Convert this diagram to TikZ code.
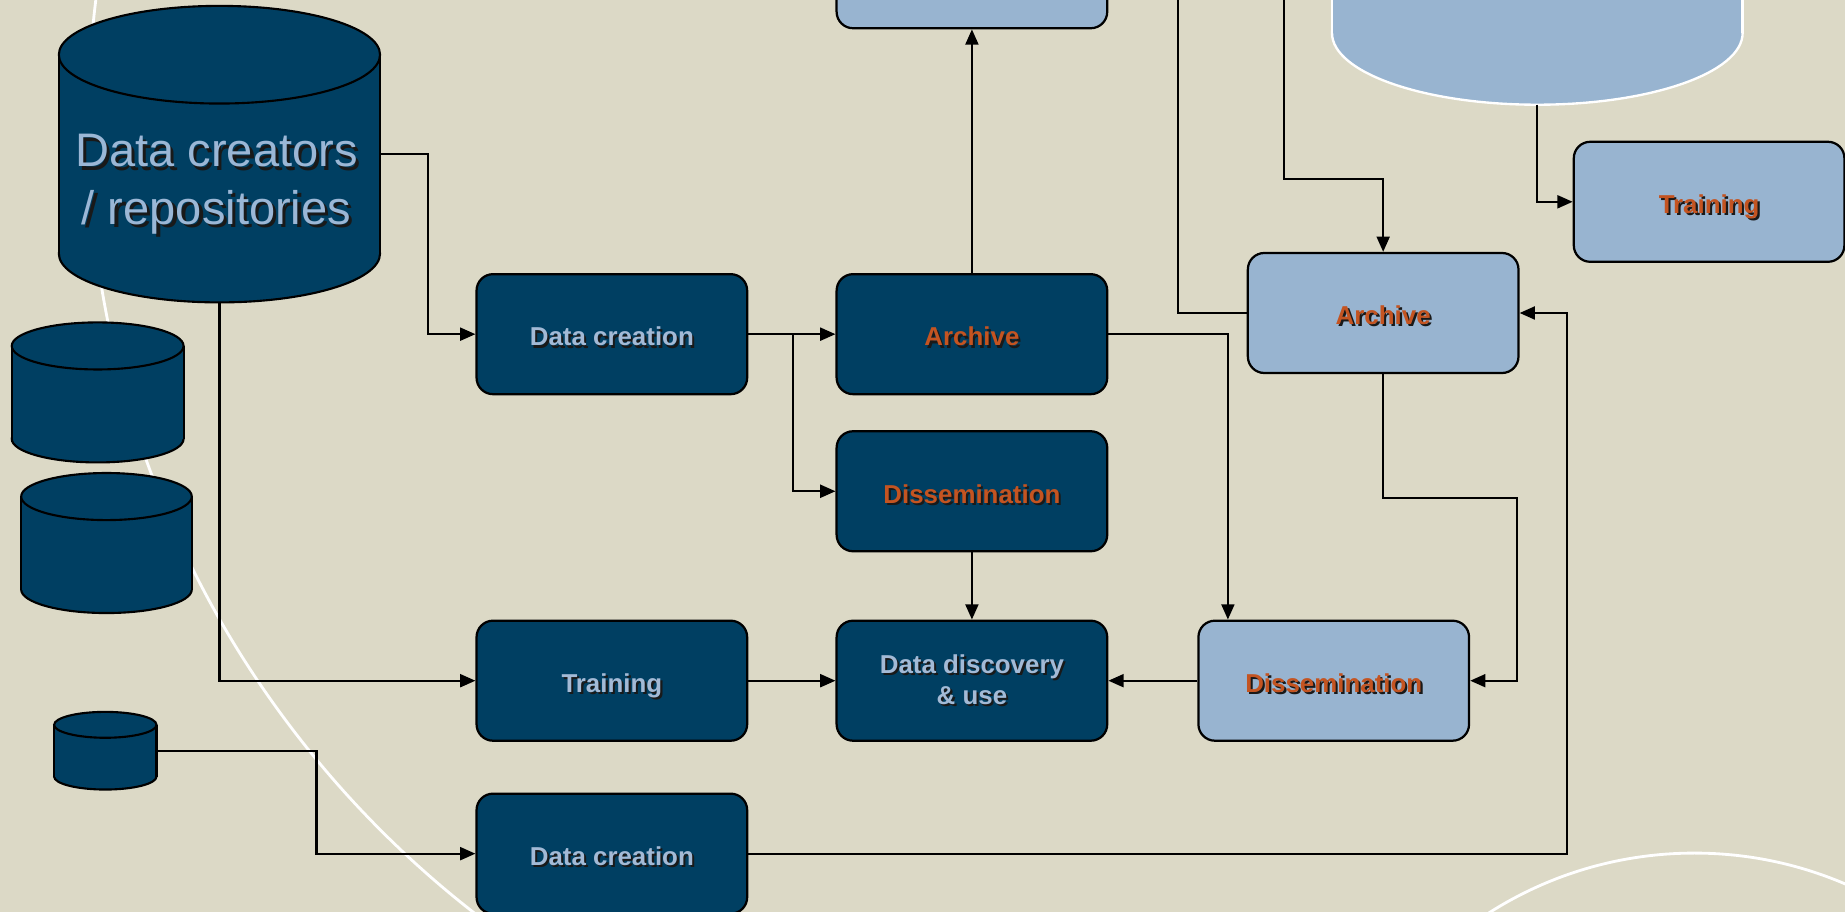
\documentclass[tikz,border=0pt]{standalone}
\usepackage{fontspec}
\setmainfont{Liberation Sans}
\usetikzlibrary{arrows.meta}
\definecolor{bg}{RGB}{220,217,198}
\definecolor{navy}{RGB}{0,63,98}
\definecolor{lightb}{RGB}{152,180,208}
\definecolor{txtb}{RGB}{163,186,214}
\definecolor{bigtxt}{RGB}{155,183,214}
\definecolor{orng}{RGB}{196,84,33}
\definecolor{shd}{RGB}{25,25,25}
\newcommand\sh[3][0.9pt]{\makebox[0pt][l]{\hspace{#1}\raisebox{-#1}{\color{shd}#3}}{\color{#2}#3}}
% cylinder: name, cx, cy, half width, half height, ry (units)
\newcommand\mycyl[6]{%
  \node[inner sep=0pt, outer sep=0pt, minimum width=#4pt, minimum height=#5pt] (#1) at (#2,#3) {};
  \filldraw[cylst] (#2,#3+#5-#6) ellipse[x radius=#4, y radius=#6];
  \fill[navy] (#2-#4,#3-#5+#6) rectangle (#2+#4,#3+#5-#6);
  \draw[cylline] (#2-#4,#3-#5+#6) -- (#2-#4,#3+#5-#6) (#2+#4,#3-#5+#6) -- (#2+#4,#3+#5-#6);
  \filldraw[cylst] (#2,#3-#5+#6) ellipse[x radius=#4, y radius=#6];
}
\tikzset{
  box/.style={draw=black, line width=0.95pt, rounded corners=7pt, minimum width=115pt,
    minimum height=51pt, inner sep=0pt, align=center, font=\bfseries\fontsize{11}{13.5}\selectfont},
  oneline/.style={text height=10pt, text depth=0pt},
  darkbox/.style={box, fill=navy},
  lightbox/.style={box, fill=lightb},
  conn/.style={draw=black, line width=0.95pt, -{Triangle[length=6.5pt,width=5.5pt]}},
  plainline/.style={draw=black, line width=0.95pt},
  cylst/.style={fill=navy, draw=black, line width=0.9pt},
  cylline/.style={draw=black, line width=0.9pt},
  arcline/.style={draw=white, line width=1.2pt}
}
\begin{document}
\begin{tikzpicture}[x=0.5pt, y=-0.5pt]
\fill[bg] (0,0) rectangle (1568,775);
\useasboundingbox (0,0) rectangle (1568,775);
\clip (0,0) rectangle (1568,775);
% background decoration arcs
\begin{scope}
  \clip (0,0) rectangle (700,775);
  \draw[arcline] (925,105) circle[radius=850];
\end{scope}
\draw[arcline] (1440,1050) circle[radius=325];

% cylinders
\mycyl{cyl1}{186.5}{131}{136.5}{126}{41.5}
\mycyl{cyl2}{83}{333.5}{73}{59.5}{20}
\mycyl{cyl3}{90.5}{461.5}{72.5}{59.5}{20}
\mycyl{cyl4}{89.5}{638}{43.5}{33}{11}
\node[inner sep=0pt, align=center, font=\fontsize{20}{24.5}\selectfont] (cyl1lbl) at (184,158)
  {\sh[1.4pt]{bigtxt}{Data creators}\\\sh[1.4pt]{bigtxt}{/ repositories}};

% light cylinder (top right, cut by the frame)
\node[inner sep=0pt, outer sep=0pt, minimum width=174.5pt, minimum height=144.5pt] (lcyl) at (1306.5,-55.5) {};
\filldraw[fill=lightb, draw=white, line width=1pt] (1306.5,28) ellipse[x radius=174.5, y radius=61];
\fill[lightb] (1132,-20) rectangle (1481,28);
\draw[white, line width=1pt] (1132,-20) -- (1132,28) (1481,-20) -- (1481,28);

% boxes
\node[lightbox] (topbox) at (826,-27) {};
\node[darkbox, oneline] (dc1) at (520,284) {\sh{txtb}{Data creation}};
\node[darkbox, oneline] (arch1) at (826,284) {\sh{orng}{Archive}};
\node[darkbox, oneline] (diss1) at (826,417.5) {\sh{orng}{Dissemination}};
\node[darkbox, oneline] (train1) at (520,578.5) {\sh{txtb}{Training}};
\node[darkbox] (ddu) at (826,578.5) {\sh{txtb}{Data discovery}\\\sh{txtb}{\& use}};
\node[lightbox, oneline] (diss2) at (1133.5,578.5) {\sh{orng}{Dissemination}};
\node[lightbox, oneline] (arch2) at (1175.5,266) {\sh{orng}{Archive}};
\node[lightbox, oneline] (train2) at (1452.5,171.5) {\sh{orng}{Training}};
\node[darkbox, oneline] (dc2) at (520,725.5) {\sh{txtb}{Data creation}};

\coordinate (inA) at (1091,-5);
\coordinate (inB) at (1001,-5);

% connectors
\draw[conn] (cyl1.east) -- ++(41,0) |- (dc1.west);
\draw[conn] (cyl1.south) |- (train1.west);
\draw[conn] (cyl4.east) -- ++(136,0) |- (dc2.west);
\draw[conn] (dc1.east) -- (arch1.west);
\draw[conn] (dc1.east) -- ++(38,0) |- (diss1.west);
\draw[conn] (arch1.north) -- (topbox.south);
\draw[conn] (arch1.east) -| ([xshift=13pt]diss2.north west);
\draw[conn] (diss1.south) -- (ddu.north);
\draw[conn] (train1.east) -- (ddu.west);
\draw[conn] (diss2.west) -- (ddu.east);
\draw[conn] (arch2.south) -- ++(0,105) -- ++(113.5,0) |- (diss2.east);
\draw[conn] (dc2.east) -- ++(696,0) |- (arch2.east);
\draw[conn] (inA) -- ++(0,157) -| (arch2.north);
\draw[plainline] (arch2.west) -| (inB);
\draw[conn] (lcyl.south) |- (train2.west);
\end{tikzpicture}
\end{document}
